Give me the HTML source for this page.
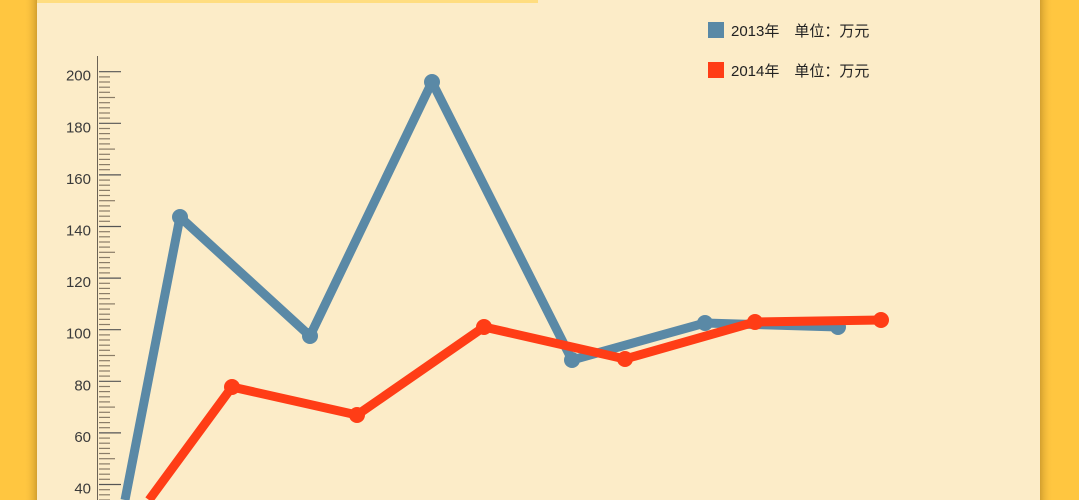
<!DOCTYPE html>
<html><head><meta charset="utf-8"><style>
html,body{margin:0;padding:0;width:1079px;height:500px;overflow:hidden;background:#FFC640}
svg{overflow:hidden;display:block}
</style></head><body>
<svg id="s" width="1079" height="500" viewBox="0 0 1079 500" xmlns="http://www.w3.org/2000/svg" style="position:absolute;left:0;top:0">
<defs><linearGradient id="sh" x1="0" x2="1"><stop offset="0" stop-color="#FFC640" stop-opacity="0"/><stop offset="1" stop-color="#C8962A" stop-opacity="0.8"/></linearGradient>
<linearGradient id="sh2" x1="1" x2="0"><stop offset="0" stop-color="#FFC640" stop-opacity="0"/><stop offset="1" stop-color="#C8962A" stop-opacity="0.8"/></linearGradient></defs>
<rect x="24" y="0" width="13" height="500" fill="url(#sh)"/>
<rect x="1040" y="0" width="13" height="500" fill="url(#sh2)"/>
<rect x="37" y="0" width="1003" height="500" fill="#FCECC8"/>
<rect x="37" y="0" width="501" height="3" fill="#FFDD80"/>
<line x1="97.5" y1="56" x2="97.5" y2="500" stroke="#6b6255" stroke-width="1"/>
<g id="ticks"></g>
<g font-family="Liberation Sans, sans-serif" font-size="15" fill="#3a3a3a" text-anchor="end" id="labels"></g>
<polyline points="125,500 180,217 310,336 432,82 572,360 705,323 838,327" fill="none" stroke="#5A89A6" stroke-width="9" stroke-linejoin="round"/>
<g fill="#5A89A6"><circle cx="180" cy="217" r="8"/><circle cx="310" cy="336" r="8"/><circle cx="432" cy="82" r="8"/><circle cx="572" cy="360" r="8"/><circle cx="705" cy="323" r="8"/><circle cx="838" cy="327" r="8"/></g>
<polyline points="149,500 232,387 357,415 484,327 625,359 755,322 881,320" fill="none" stroke="#FF3D16" stroke-width="9" stroke-linejoin="round"/>
<g fill="#FF3D16"><circle cx="232" cy="387" r="8"/><circle cx="357" cy="415" r="8"/><circle cx="484" cy="327" r="8"/><circle cx="625" cy="359" r="8"/><circle cx="755" cy="322" r="8"/><circle cx="881" cy="320" r="8"/></g>
<rect x="708" y="22" width="16" height="16" fill="#5A89A6"/>
<rect x="708" y="62" width="16" height="16" fill="#FF3D16"/>
<g font-family="Liberation Sans, 'Noto Sans CJK SC', sans-serif" font-size="15" fill="#222">
<text x="731" y="36">2013年　单位：万元</text>
<text x="731" y="76">2014年　单位：万元</text>
</g>
</svg>
<script>
var t=document.getElementById('ticks'),l=document.getElementById('labels'),h='';
for(var v=200;v>=24;v-=2){var y=71.7+(200-v)*2.58;var len=v%20==0?22:(v%10==0?16:11);
h+='<line x1="99" x2="'+(99+len)+'" y1="'+y.toFixed(1)+'" y2="'+y.toFixed(1)+'" stroke="'+(v%20==0?'#555':'#8a7d68')+'" stroke-width="1.2"/>';}
t.innerHTML=h;var g='';
for(var v=200;v>=40;v-=20){var y=71.7+(200-v)*2.58;g+='<text x="91" y="'+(y+9).toFixed(1)+'">'+v+'</text>';}
l.innerHTML=g;
</script>
</body></html>
